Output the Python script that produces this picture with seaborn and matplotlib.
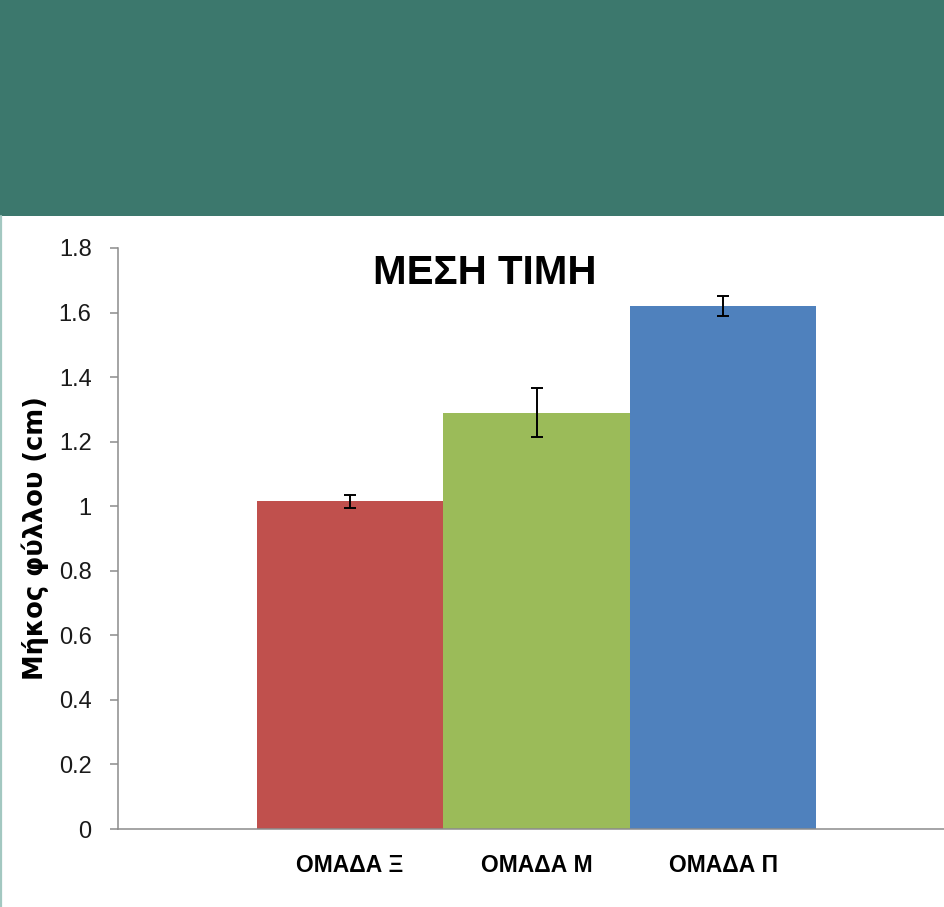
import matplotlib as mtl
mtl.use('Agg')
import matplotlib.pyplot as plt
import matplotlib.ticker as tic
import seaborn as sns
import pandas as pd
from matplotlib.patches import Rectangle
from matplotlib.lines import Line2D

# data
groups = ['ΟΜΑΔΑ Ξ', 'ΟΜΑΔΑ Μ', 'ΟΜΑΔΑ Π']
means = [1.015, 1.29, 1.62]
errors = [0.02, 0.077, 0.03]
bar_colors = ['#c0504d', '#9bbb59', '#4f81bd']
yticks = [0, 0.2, 0.4, 0.6, 0.8, 1.0, 1.2, 1.4, 1.6, 1.8]
title = 'ΜΕΣΗ ΤΙΜΗ'
ylabel = 'Μήκος φύλλου (cm)'

sns.set_style('white')
plt.rcParams['font.family'] = ['Liberation Sans', 'DejaVu Sans']

W, H = 945, 907
fig = plt.figure(figsize=(W / 100, H / 100), dpi=100)
fig.patch.set_facecolor('white')

# teal band on top + thin light line on the left edge
band_h = 216 / H
fig.patches.append(Rectangle((0, 1 - band_h), 1, band_h, transform=fig.transFigure,
                             facecolor='#3c786d', edgecolor='none', zorder=0))
fig.lines.append(Line2D([1 / W, 1 / W], [0, 1 - band_h], transform=fig.transFigure,
                        color='#a3c8c1', lw=1.6))

ax = fig.add_axes([118 / W, 1 - 829 / H, 1 - 118 / W, (829 - 248) / H])

df = pd.DataFrame({'group': groups, 'mean': means})
sns.barplot(data=df, x='group', y='mean', hue='group', palette=bar_colors,
            width=1.0, saturation=1, legend=False, linewidth=0, ax=ax)
ax.errorbar(range(len(groups)), means, yerr=errors, fmt='none', ecolor='black',
            capsize=4.3, elinewidth=1.4, capthick=1.4, zorder=5)

ax.set_xlim(-1.244, 3.19)
ax.set_ylim(0, 1.8)
ax.set_yticks(yticks)
ax.yaxis.set_major_formatter(tic.FormatStrFormatter('%g'))

for s in ['top', 'right']:
    ax.spines[s].set_visible(False)
for s in ['left', 'bottom']:
    ax.spines[s].set_color('#8c8c8c')
    ax.spines[s].set_linewidth(1.1)

ax.tick_params(axis='y', length=6, width=1.1, color='#8c8c8c', pad=13,
               labelsize=17, labelcolor='#1a1a1a', left=True)
ax.tick_params(axis='x', length=0, pad=18, labelsize=16.5, labelcolor='black')
for lab in ax.get_xticklabels():
    lab.set_fontweight('bold')
ax.set_xticks([1], minor=True)
ax.tick_params(axis='x', which='minor', length=5, width=1, color='#c8c8c8', bottom=True)

ax.set_xlabel('')
ax.set_ylabel(ylabel, fontsize=18.5, fontweight='bold', family='DejaVu Sans', color='black')
ax.yaxis.set_label_coords(-0.084, 0.5)

ax.text(0.444, 0.938, title, transform=ax.transAxes, ha='center', va='baseline',
        fontsize=29, fontweight='bold', color='black',
        family=['Liberation Sans', 'DejaVu Sans'])

fig.savefig('out.png', dpi=100)
